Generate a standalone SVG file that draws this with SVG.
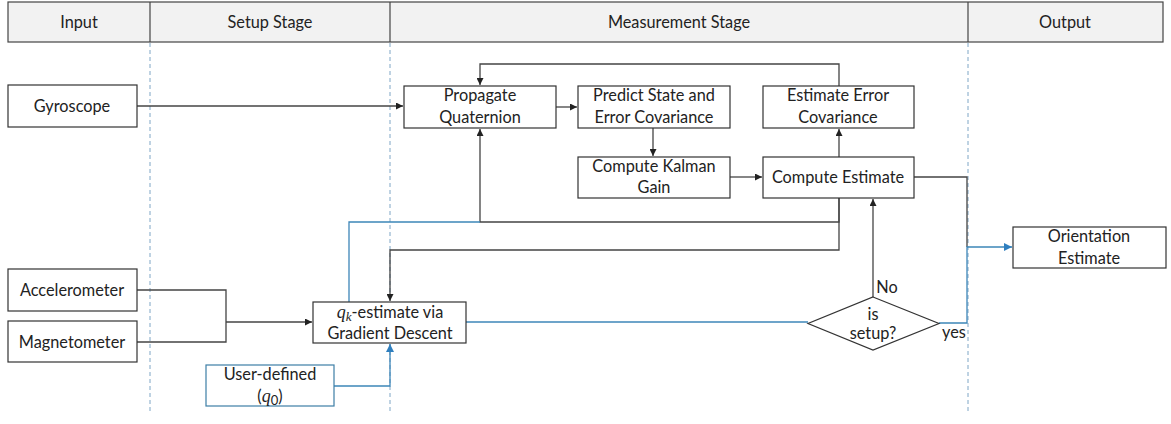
<svg xmlns="http://www.w3.org/2000/svg" width="1171" height="424" viewBox="0 0 1171 424">
  <style>
    text { font-family: Lato, "Open Sans", "Liberation Sans", sans-serif; font-size: 16.3px; fill: #222; text-anchor: middle; }
    .hdr { fill: #f2f2f2; stroke: #444; stroke-width: 1.2; }
    .box { fill: #fff; stroke: #333; stroke-width: 1.2; }
    .bbox { fill: #fff; stroke: #3d7ea6; stroke-width: 1.2; }
    .lane { stroke: #7fa6c6; stroke-width: 1; stroke-dasharray: 4 3; fill: none; }
    .c { fill: none; stroke: #444; stroke-width: 1.3; }
    .cb { fill: none; stroke: #3d86b8; stroke-width: 1.3; }
    .m { font-family: "Liberation Serif", "DejaVu Serif", serif; font-style: italic; font-size: 18px; }
    .sub { font-size: 13px; }
  </style>
  <defs>
    <marker id="ah" viewBox="0 0 10 10" refX="10" refY="5" markerWidth="7" markerHeight="7" markerUnits="userSpaceOnUse" orient="auto">
      <path d="M0,0 L10,5 L0,10 z" fill="#222"/>
    </marker>
    <marker id="ahb" viewBox="0 0 10 10" refX="10" refY="5" markerWidth="8" markerHeight="8" markerUnits="userSpaceOnUse" orient="auto">
      <path d="M0,0 L10,5 L0,10 z" fill="#2f7fbf"/>
    </marker>
  </defs>

  <!-- swimlane header -->
  <g id="header">
    <rect class="hdr" x="8" y="2" width="1155" height="40"/>
    <line x1="150" y1="2" x2="150" y2="42" stroke="#444" stroke-width="1.2"/>
    <line x1="390" y1="2" x2="390" y2="42" stroke="#444" stroke-width="1.2"/>
    <line x1="968" y1="2" x2="968" y2="42" stroke="#444" stroke-width="1.2"/>
    <text x="79" y="28">Input</text>
    <text x="270" y="28">Setup Stage</text>
    <text x="679" y="28">Measurement Stage</text>
    <text x="1065" y="28">Output</text>
  </g>

  <!-- lane separators -->
  <g id="lanes">
    <line class="lane" x1="150" y1="43" x2="150" y2="414"/>
    <line class="lane" x1="390" y1="43" x2="390" y2="414"/>
    <line class="lane" x1="968" y1="43" x2="968" y2="414"/>
  </g>

  <!-- connectors -->
  <g id="connectors">
    <!-- gyroscope to propagate -->
    <path class="c" d="M137,106 H403" marker-end="url(#ah)"/>
    <!-- propagate to predict -->
    <path class="c" d="M556,107 H577" marker-end="url(#ah)"/>
    <!-- predict to kalman gain -->
    <path class="c" d="M653,128 V156" marker-end="url(#ah)"/>
    <!-- kalman gain to compute estimate -->
    <path class="c" d="M730,177 H762" marker-end="url(#ah)"/>
    <!-- compute estimate to estimate error covariance -->
    <path class="c" d="M839,157 V129" marker-end="url(#ah)"/>
    <!-- error covariance feedback to propagate -->
    <path class="c" d="M839,86 V64 H480 V85" marker-end="url(#ah)"/>
    <!-- compute estimate feedback to propagate -->
    <path class="c" d="M839,198 V222 H480 V129" marker-end="url(#ah)"/>
    <!-- q_k estimate joins propagate input -->
    <path class="cb" d="M349,302 V222 H480"/>
    <!-- compute estimate to gradient descent -->
    <path class="c" d="M839,198 V250 H390 V301" marker-end="url(#ah)"/>
    <!-- accelerometer / magnetometer merge -->
    <path class="c" d="M137,290 H226 V342 H137"/>
    <path class="c" d="M226,322 H312" marker-end="url(#ah)"/>
    <!-- user-defined q0 -->
    <path class="cb" d="M334,386 H390 V344" marker-end="url(#ahb)"/>
    <!-- gradient descent to decision -->
    <path class="cb" d="M466,322 H808"/>
    <!-- decision no: back to compute estimate -->
    <path class="c" d="M873,297 V199" marker-end="url(#ah)"/>
    <!-- compute estimate to output -->
    <path class="c" d="M914,177 H967 V247"/>
    <!-- decision yes: to output -->
    <path class="cb" d="M939,323 H967 V247 H1012" marker-end="url(#ahb)"/>
  </g>

  <g id="gyroscope">
    <rect class="box" x="8" y="85" width="129" height="42"/>
    <text x="72" y="112">Gyroscope</text>
  </g>
  <g id="accelerometer">
    <rect class="box" x="8" y="269" width="129" height="42"/>
    <text x="72" y="296">Accelerometer</text>
  </g>
  <g id="magnetometer">
    <rect class="box" x="8" y="321" width="129" height="41"/>
    <text x="72" y="348">Magnetometer</text>
  </g>
  <g id="user-defined">
    <rect class="bbox" x="206" y="365" width="128" height="41"/>
    <text x="270" y="380">User-defined</text>
    <text x="270" y="402">(<tspan class="m">q</tspan><tspan class="sub" dy="3">0</tspan><tspan dy="-3">)</tspan></text>
  </g>
  <g id="gradient-descent">
    <rect class="box" x="313" y="302" width="153" height="41"/>
    <text x="390" y="318"><tspan class="m">q</tspan><tspan class="m sub" dy="3">k</tspan><tspan dy="-3">-estimate via</tspan></text>
    <text x="390" y="339">Gradient Descent</text>
  </g>
  <g id="propagate">
    <rect class="box" x="404" y="86" width="152" height="42"/>
    <text x="480" y="101">Propagate</text>
    <text x="480" y="123">Quaternion</text>
  </g>
  <g id="predict">
    <rect class="box" x="578" y="86" width="152" height="42"/>
    <text x="654" y="101">Predict State and</text>
    <text x="654" y="123">Error Covariance</text>
  </g>
  <g id="estimate-error">
    <rect class="box" x="763" y="86" width="151" height="42"/>
    <text x="838" y="101">Estimate Error</text>
    <text x="838" y="123">Covariance</text>
  </g>
  <g id="kalman-gain">
    <rect class="box" x="578" y="157" width="152" height="41"/>
    <text x="654" y="172">Compute Kalman</text>
    <text x="654" y="193">Gain</text>
  </g>
  <g id="compute-estimate">
    <rect class="box" x="763" y="157" width="151" height="41"/>
    <text x="838" y="183">Compute Estimate</text>
  </g>
  <g id="is-setup">
    <polygon class="box" points="873,297 939,323.5 873,350 808,323.5"/>
    <text x="873" y="320">is</text>
    <text x="873" y="339">setup?</text>
    <text x="887" y="293">No</text>
    <text x="954" y="338">yes</text>
  </g>
  <g id="orientation">
    <rect class="box" x="1013" y="227" width="153" height="41"/>
    <text x="1089" y="242">Orientation</text>
    <text x="1089" y="264">Estimate</text>
  </g>
</svg>
